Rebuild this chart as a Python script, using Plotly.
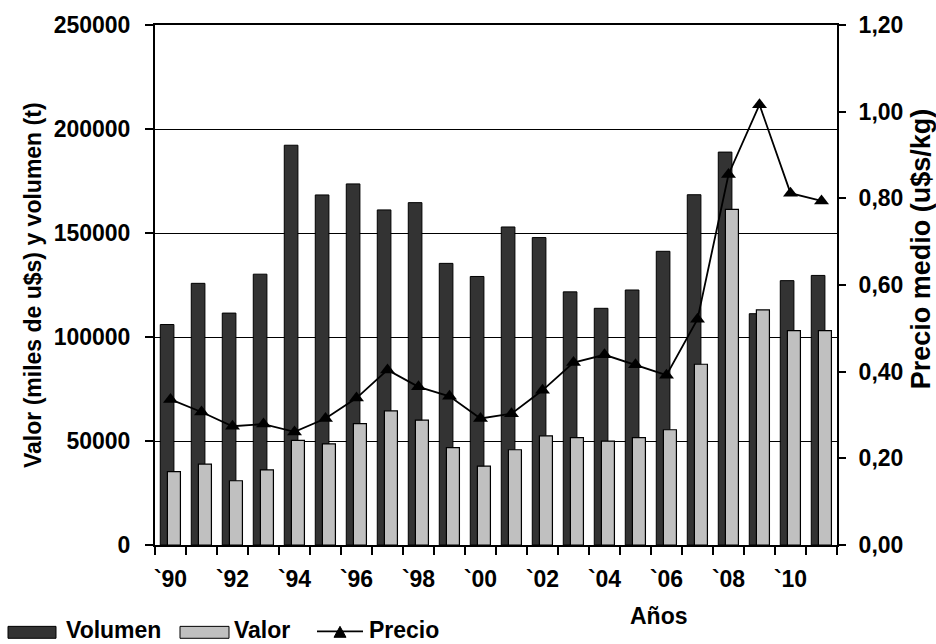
import plotly.graph_objects as go

years = list(range(1990, 2012))
volumen = [106000, 125800, 111500, 130200, 192200, 168300, 173600, 161100, 164600, 135400, 129100,
           152900, 147800, 121700, 113800, 122600, 141200, 168400, 188900, 111200, 127100, 129600]
valor = [35300, 38900, 30900, 36100, 50300, 48600, 58400, 64500, 60000, 46800, 37900,
         45800, 52500, 51600, 49900, 51600, 55400, 86900, 161400, 113000, 103100, 103100]
precio = [0.336, 0.307, 0.274, 0.279, 0.261, 0.292, 0.339, 0.404, 0.365, 0.343, 0.292,
          0.303, 0.357, 0.421, 0.439, 0.416, 0.392, 0.521, 0.855, 1.016, 0.812, 0.794]

label_years = [1990, 1992, 1994, 1996, 1998, 2000, 2002, 2004, 2006, 2008, 2010]
tick_labels = ["`90", "`92", "`94", "`96", "`98", "`00", "`02", "`04", "`06", "`08", "`10"]
left_ticks = [0, 50000, 100000, 150000, 200000, 250000]
right_ticks = [0, 0.2, 0.4, 0.6, 0.8, 1.0, 1.2]
right_labels = ["0,00", "0,20", "0,40", "0,60", "0,80", "1,00", "1,20"]

DARK = "#333333"
LIGHT = "#c0c0c0"
FONT = "Arial, 'Liberation Sans', sans-serif"
FS = 23

W, H = 936, 644
L, R, T, B = 155, 99, 21, 99
PW, PH = W - L - R, H - T - B


def px(x):
    return (x - L) / PW


def py(y):
    return (H - B - y) / PH


fig = go.Figure()
fig.add_trace(go.Bar(x=years, y=volumen, name="Volumen", width=0.44, offset=-0.33,
                     marker=dict(color=DARK, line=dict(color="black", width=1)),
                     showlegend=False))
fig.add_trace(go.Bar(x=years, y=valor, name="Valor", width=0.42, offset=-0.10,
                     marker=dict(color=LIGHT, line=dict(color="black", width=1.2)),
                     showlegend=False))
fig.add_trace(go.Scatter(x=years, y=precio, name="Precio", yaxis="y2", mode="lines+markers",
                         line=dict(color="black", width=1.8),
                         marker=dict(symbol="triangle-up", size=13, color="black"),
                         showlegend=False))

tf = dict(family=FONT, size=FS, color="black", weight="bold")

fig.update_layout(
    width=W, height=H,
    margin=dict(l=L, r=R, t=T, b=B),
    paper_bgcolor="white", plot_bgcolor="white",
    font=tf,
    barmode="overlay",
    xaxis=dict(range=[1989.5, 2011.5], tickmode="array", tickvals=label_years, ticktext=tick_labels,
               ticks="", showline=True, mirror=True, linecolor="black", linewidth=2, showgrid=False,
               zeroline=False, tickfont=tf, ticklabelstandoff=12,
               minor=dict(tickmode="linear", tick0=1989.5, dtick=1, ticks="outside", ticklen=8,
                          tickwidth=1.5, tickcolor="black", showgrid=False)),
    yaxis=dict(range=[0, 250000], tickmode="array", tickvals=left_ticks, tickformat="d",
               ticks="outside", ticklen=8, tickwidth=1.5, tickcolor="black",
               showline=True, linecolor="black", linewidth=2,
               showgrid=True, gridcolor="black", gridwidth=1.3, zeroline=False,
               tickfont=tf, ticklabelstandoff=10),
    yaxis2=dict(range=[0, 1.2], overlaying="y", side="right", tickmode="array",
                tickvals=right_ticks, ticktext=right_labels, ticks="outside", ticklen=7,
                tickwidth=1.5, tickcolor="black", showline=True, linecolor="black", linewidth=2,
                showgrid=False, zeroline=False, tickfont=tf, ticklabelstandoff=8),
    yaxis3=dict(range=[0, 1.2], overlaying="y", side="right", anchor="x", tickmode="array",
                tickvals=right_ticks, ticks="inside", ticklen=7, tickwidth=1.5, tickcolor="black",
                showticklabels=False, showline=False, showgrid=False, zeroline=False),
)

annotations = [
    dict(text="Valor (miles de u$s) y volumen (t)", textangle=-90, x=px(33), y=0.5,
         xref="paper", yref="paper", xanchor="center", yanchor="middle", showarrow=False, font=tf),
    dict(text="Precio medio (u$s/kg)", textangle=-90, x=px(921), y=py(246),
         xref="paper", yref="paper", xanchor="center", yanchor="middle", showarrow=False,
         font=dict(family=FONT, size=27, color="black", weight="bold")),
    dict(text="Años", x=px(659), y=py(617), xref="paper", yref="paper",
         xanchor="center", yanchor="middle", showarrow=False, font=tf),
]

# custom legend
leg_y = 632
legend_items = [("Volumen", 65), ("Valor", 233), ("Precio", 368)]
for name, xl in legend_items:
    annotations.append(dict(text=name, x=px(xl), y=py(leg_y - 1), xref="paper", yref="paper",
                            xanchor="left", yanchor="middle", showarrow=False, borderpad=0,
                            font=dict(family=FONT, size=23, color="black", weight="bold")))

shapes = [
    dict(type="rect", xref="paper", yref="paper", x0=px(8), x1=px(56), y0=py(627), y1=py(639),
         fillcolor=DARK, line=dict(color="black", width=1)),
    dict(type="rect", xref="paper", yref="paper", x0=px(180), x1=px(229), y0=py(627), y1=py(639),
         fillcolor=LIGHT, line=dict(color="black", width=1)),
    dict(type="line", xref="paper", yref="paper", x0=px(317), x1=px(363), y0=py(leg_y), y1=py(leg_y),
         line=dict(color="black", width=1.8)),
    dict(type="path", xref="paper", yref="paper",
         path=f"M {px(334)} {py(638)} L {px(346)} {py(638)} L {px(340)} {py(627)} Z",
         fillcolor="black", line=dict(color="black", width=1)),
]

fig.update_layout(annotations=annotations, shapes=shapes)
fig.write_html("out.html")
